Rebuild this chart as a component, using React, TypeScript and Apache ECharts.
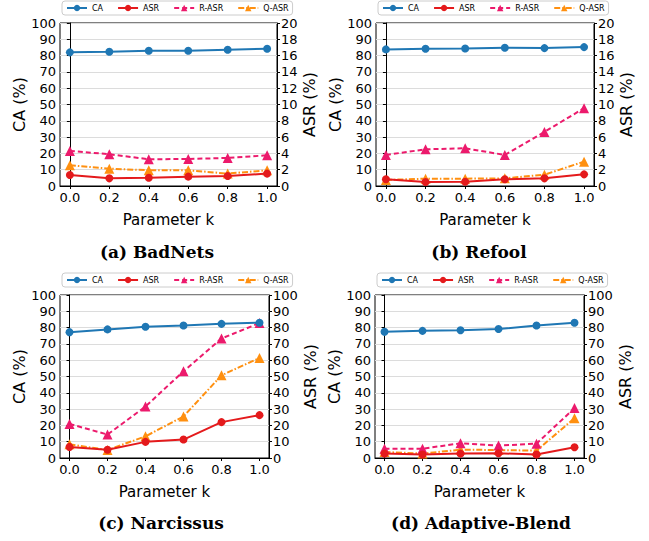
import React, { useEffect, useRef } from "react";
import * as echarts from "echarts";

const K = [0.0, 0.2, 0.4, 0.6, 0.8, 1.0];
const SERIES_NAMES = ["CA", "ASR", "R-ASR", "Q-ASR"];
const CAPTIONS = ["(a) BadNets", "(b) Refool", "(c) Narcissus", "(d) Adaptive-Blend"];
const RIGHT_MAX = [20, 20, 100, 100];
const RIGHT_INTERVAL = [2, 2, 10, 10];

// (a) BadNets
const CA_A = [82.0, 82.4, 83.0, 83.0, 83.6, 84.2];
const ASR_A = [1.35, 0.94, 1.02, 1.15, 1.23, 1.52];
const RASR_A = [4.3, 3.9, 3.28, 3.32, 3.44, 3.77];
const QASR_A = [2.54, 2.13, 1.93, 1.93, 1.52, 1.93];
// (b) Refool
const CA_B = [83.8, 84.2, 84.4, 84.8, 84.6, 85.2];
const ASR_B = [0.82, 0.49, 0.53, 0.82, 0.94, 1.43];
const RASR_B = [3.81, 4.5, 4.63, 3.81, 6.64, 9.55];
const QASR_B = [0.74, 0.9, 0.9, 0.94, 1.39, 2.99];
// (c) Narcissus
const CA_C = [77.2, 78.9, 80.5, 81.3, 82.3, 83.0];
const ASR_C = [6.8, 5.1, 9.9, 11.3, 22.0, 26.3];
const RASR_C = [20.9, 14.4, 31.6, 53.2, 73.3, 82.8];
const QASR_C = [8.4, 4.9, 13.3, 25.5, 50.7, 61.4];
// (d) Adaptive-Blend
const CA_D = [77.4, 78.0, 78.4, 79.1, 81.3, 83.0];
const ASR_D = [2.7, 2.1, 2.7, 2.9, 2.1, 6.6];
const RASR_D = [5.7, 5.7, 9.0, 7.6, 8.8, 30.6];
const QASR_D = [3.7, 2.7, 5.1, 4.9, 4.5, 24.4];

const PANELS = [
  [CA_A, ASR_A, RASR_A, QASR_A],
  [CA_B, ASR_B, RASR_B, QASR_B],
  [CA_C, ASR_C, RASR_C, QASR_C],
  [CA_D, ASR_D, RASR_D, QASR_D],
];

const GRIDS = [
  { left: 60, right: 649 - 277, top: 23, bottom: 541 - 186 },
  { left: 376, right: 649 - 594, top: 23, bottom: 541 - 186 },
  { left: 60, right: 649 - 269, top: 295, bottom: 541 - 458 },
  { left: 375, right: 649 - 584, top: 295, bottom: 541 - 458 },
];
const CAPTION_POS = [
  { x: 157, y: 252 },
  { x: 479, y: 252 },
  { x: 161, y: 523 },
  { x: 481, y: 523 },
];

const COLORS = ["#1f77b4", "#e41a1c", "#ec1a6c", "#ff9010"];
const SYMBOLS = ["circle", "circle", "triangle", "triangle"];
const DASHES: any[] = ["solid", "solid", [5, 3], [6, 2, 1.5, 2]];

export default function App() {
  const ref = useRef<HTMLDivElement>(null);
  useEffect(() => {
    if (!ref.current) return;
    const chart = echarts.init(ref.current, null, { renderer: "svg" });
    const font = "DejaVu Sans";
    const grid: any[] = [];
    const xAxis: any[] = [];
    const yAxis: any[] = [];
    const series: any[] = [];
    const legend: any[] = [];
    const graphic: any[] = [];

    PANELS.forEach((panel, i) => {
      const g = GRIDS[i];
      grid.push({
        ...g,
        show: true,
        borderColor: "#000",
        borderWidth: 1,
        backgroundColor: "transparent",
      });
      xAxis.push({
        type: "value",
        gridIndex: i,
        min: -0.05,
        max: 1.05,
        name: "Parameter k",
        nameLocation: "middle",
        nameGap: 26,
        nameTextStyle: { fontSize: 15, color: "#000", fontFamily: font },
        axisLine: { show: true, onZero: false, lineStyle: { color: "#000" } },
        axisTick: { show: true, inside: false, length: 3, customValues: K, lineStyle: { color: "#000" } },
        axisLabel: {
          show: true,
          customValues: K,
          formatter: (v: number) => v.toFixed(1),
          fontSize: 13,
          color: "#000",
          fontFamily: font,
          margin: 5,
        },
        splitLine: { show: false },
      });
      yAxis.push({
        type: "value",
        gridIndex: i,
        position: "left",
        min: 0,
        max: 100,
        interval: 10,
        name: "CA (%)",
        nameLocation: "middle",
        nameRotate: 90,
        nameGap: 31,
        nameTextStyle: { fontSize: 16, color: "#000", fontFamily: font },
        axisLine: { show: true, lineStyle: { color: "#000" } },
        axisTick: { show: true, length: 3, lineStyle: { color: "#000" } },
        axisLabel: { fontSize: 13, color: "#000", fontFamily: font, margin: 4 },
        splitLine: { show: true, lineStyle: { color: "#dcdcdc", width: 1.2 } },
      });
      yAxis.push({
        type: "value",
        gridIndex: i,
        position: "right",
        min: 0,
        max: RIGHT_MAX[i],
        interval: RIGHT_INTERVAL[i],
        name: "ASR (%)",
        nameLocation: "middle",
        nameRotate: 90,
        nameGap: i < 2 ? 24 : 33,
        nameTextStyle: { fontSize: 16, color: "#000", fontFamily: font },
        axisLine: { show: true, lineStyle: { color: "#000" } },
        axisTick: { show: true, length: 3, lineStyle: { color: "#000" } },
        axisLabel: { fontSize: 13, color: "#000", fontFamily: font, margin: 4 },
        splitLine: { show: false },
      });
      panel.forEach((vals, s) => {
        series.push({
          type: "line",
          name: SERIES_NAMES[s],
          xAxisIndex: i,
          yAxisIndex: s === 0 ? 2 * i : 2 * i + 1,
          data: K.map((k, j) => [k, vals[j]]),
          symbol: SYMBOLS[s],
          symbolSize: s < 2 ? 8 : 10,
          showSymbol: true,
          lineStyle: { color: COLORS[s], width: 2, type: DASHES[s] },
          itemStyle: { color: COLORS[s] },
          z: 10 - s,
        });
      });
      legend.push({
        data: SERIES_NAMES,
        left: g.left + 2,
        top: g.top - 22,
        orient: "horizontal",
        itemWidth: 20,
        itemHeight: 8,
        itemGap: 14,
        padding: [3, 4],
        borderColor: "#cccccc",
        borderWidth: 1,
        borderRadius: 3,
        backgroundColor: "#fff",
        textStyle: { fontSize: 8, color: "#000", fontFamily: font },
        selectedMode: false,
      });
      graphic.push({
        type: "text",
        x: CAPTION_POS[i].x,
        y: CAPTION_POS[i].y,
        style: {
          text: CAPTIONS[i],
          fontFamily: "DejaVu Serif",
          fontWeight: "bold",
          fontSize: 17,
          fill: "#000",
          align: "center",
          verticalAlign: "middle",
        },
      });
    });

    chart.setOption({
      animation: false,
      backgroundColor: "#fff",
      textStyle: { fontFamily: font },
      grid,
      xAxis,
      yAxis,
      series,
      legend,
      graphic,
    });
    return () => chart.dispose();
  }, []);
  return (
    <div
      ref={ref}
      style={{ position: "absolute", left: 0, top: 0, width: 649, height: 541 }}
    />
  );
}
